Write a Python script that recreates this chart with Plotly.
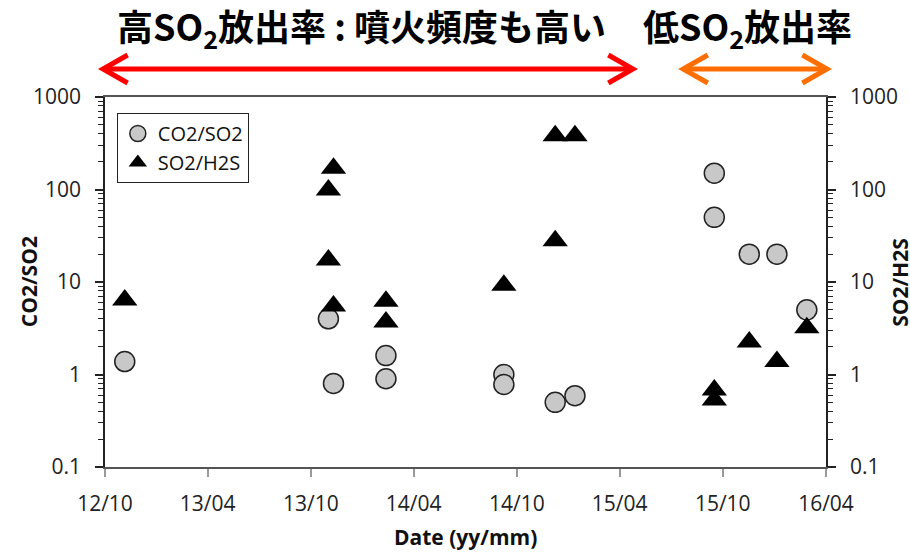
import plotly.graph_objects as go

# ---- data ----
co2_dates = ["2012-11-05", "2013-11-01", "2013-11-10", "2014-02-11", "2014-02-11",
             "2014-09-08", "2014-09-08", "2014-12-08", "2015-01-12",
             "2015-09-16", "2015-09-16", "2015-11-17", "2016-01-05", "2016-02-27"]
co2_so2 = [1.38, 4.0, 0.8, 1.6, 0.9, 1.0, 0.78, 0.5, 0.59, 150, 50, 20, 20, 5.0]

h2s_dates = ["2012-11-05", "2013-11-01", "2013-11-01", "2013-11-10", "2013-11-10",
             "2014-02-11", "2014-02-11", "2014-09-08", "2014-12-08", "2014-12-08",
             "2015-01-12", "2015-09-16", "2015-09-16", "2015-11-17", "2016-01-05",
             "2016-02-27"]
so2_h2s = [6.4, 99, 17.3, 170, 5.5, 6.2, 3.7, 9.2, 380, 28, 380, 0.68, 0.53, 2.25, 1.38, 3.2]

x_tickvals = ["2012-10-01", "2013-04-01", "2013-10-01", "2014-04-01",
              "2014-10-01", "2015-04-01", "2015-10-01", "2016-04-01"]
x_ticktext = ["12/10", "13/04", "13/10", "14/04", "14/10", "15/04", "15/10", "16/04"]
y_tickvals = [0.1, 1, 10, 100, 1000]
y_ticktext = ["0.1", "1", "10", "100", "1000"]
y_minor = [m * d for d in [0.1, 1, 10, 100] for m in range(2, 10)]

W, H = 910, 552
L, R, T, B = 105, 73, 97, 85
PW, PH = W - L - R, H - T - B


def px(x):
    return (x - L) / PW


def py(y):
    return (H - B - y) / PH


fig = go.Figure()
fig.add_trace(go.Scatter(
    x=co2_dates, y=co2_so2, mode="markers", name="CO2/SO2",
    marker=dict(symbol="circle", size=20, color="#c8c8c8",
                line=dict(color="#222222", width=1.5)),
    yaxis="y"))
fig.add_trace(go.Scatter(
    x=h2s_dates, y=so2_h2s, mode="markers", name="SO2/H2S",
    marker=dict(symbol="triangle-up", size=22, color="#000000",
                line=dict(color="#000000", width=0)),
    yaxis="y2"))

tickfont = dict(family="Open Sans", size=21, color="#222222")
yax = dict(type="log", range=[-1, 3], tickmode="array", tickvals=y_tickvals,
           ticktext=y_ticktext, ticks="outside", ticklen=8, tickwidth=1.5,
           tickcolor="#222222", showline=True, linecolor="#222222", linewidth=1.5,
           showgrid=False, zeroline=False, tickfont=tickfont, ticklabelstandoff=10,
           minor=dict(tickmode="array", tickvals=y_minor, ticks="outside",
                      ticklen=5, tickwidth=1, tickcolor="#222222", showgrid=False))

fig.update_layout(
    width=W, height=H, autosize=False,
    margin=dict(l=L, r=R, t=T, b=B),
    paper_bgcolor="white", plot_bgcolor="white",
    showlegend=True,
    legend=dict(x=px(117), y=py(113), xanchor="left", yanchor="top",
                bordercolor="#222222", borderwidth=1, bgcolor="white",
                font=dict(family="Open Sans", size=20, color="#111111"),
                itemwidth=30, tracegroupgap=0),
    xaxis=dict(type="date", range=["2012-10-01", "2016-04-01"], tickmode="array",
               tickvals=x_tickvals, ticktext=x_ticktext, ticks="outside",
               ticklen=8, tickwidth=1.5, tickcolor="#999999",
               showline=True, linecolor="#555555", linewidth=1.5, mirror=True,
               showgrid=False, zeroline=False, tickfont=tickfont,
               ticklabelstandoff=9),
    yaxis=yax,
    yaxis2=dict(yax, overlaying="y", side="right", anchor="x"),
)


def note(x, y, text, font, angle=0):
    fig.add_annotation(x=x, y=y, xref="paper", yref="paper", showarrow=False,
                       xanchor="center", yanchor="middle", text=text,
                       textangle=angle, font=font)


axis_title_font = dict(family="Open Sans", size=21, color="#111111")
note(0.5, py(537), "<b>Date (yy/mm)</b>", axis_title_font)
note(px(28), 0.5, "<b>CO2/SO2</b>", axis_title_font, -90)
note(px(912), 0.5, "<b>SO2/H2S</b>", axis_title_font, -90)

# headline texts
title_font = dict(family="Noto Sans CJK JP", size=36, color="#000000")
note(px(365), py(28), "<b>高SO<sub>2</sub>放出率 : 噴火頻度も高い</b>", title_font)
note(px(757), py(28), "<b>低SO<sub>2</sub>放出率</b>", title_font)


# double arrows
def double_arrow(x0, x1, y, color):
    lw = 5
    fig.add_shape(type="line", xref="paper", yref="paper",
                  x0=px(x0 + 2), x1=px(x1 - 2), y0=py(y), y1=py(y),
                  line=dict(color=color, width=lw))
    for tip, d in ((x0, 1), (x1, -1)):
        path = (f"M{px(tip + d * 25)},{py(y - 14)} L{px(tip)},{py(y)} "
                f"L{px(tip + d * 25)},{py(y + 14)}")
        fig.add_shape(type="path", xref="paper", yref="paper", path=path,
                      line=dict(color=color, width=lw))


double_arrow(103, 641, 69, "#ff0000")
double_arrow(692, 838, 69, "#ff6e00")

fig.write_html("out.html")
